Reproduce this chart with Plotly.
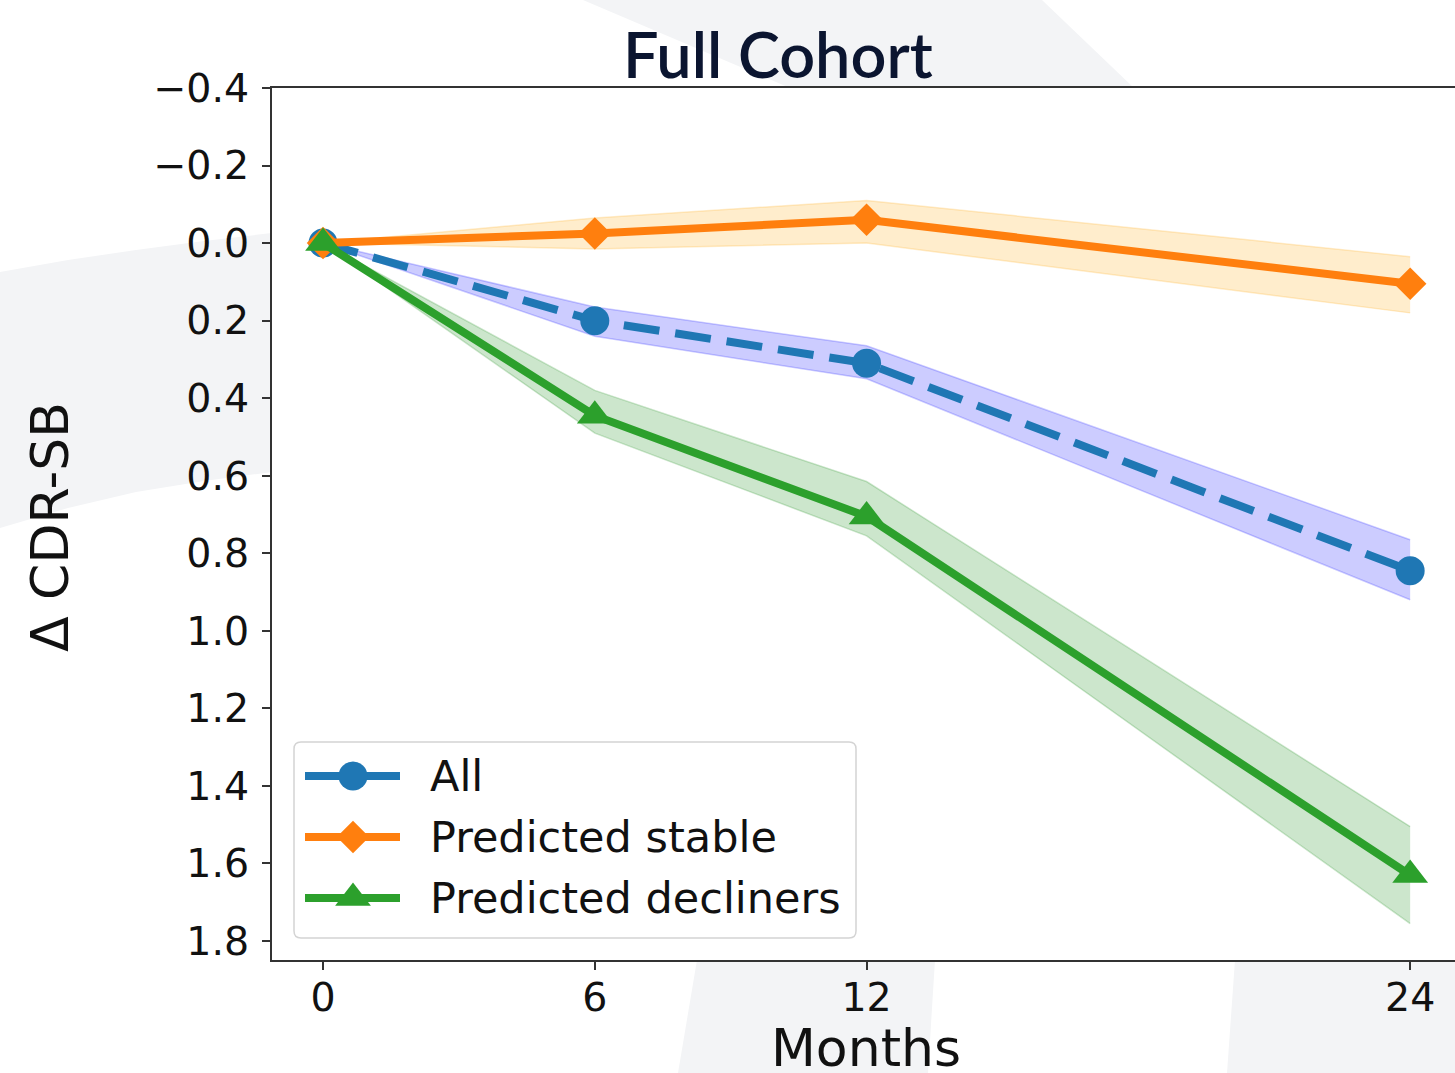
import plotly.graph_objects as go

# ---------------------------------------------------------------- data
months = [0, 6, 12, 24]

all_mean = [0.0, 0.20, 0.31, 0.845]
all_lo = [0.0, 0.165, 0.265, 0.765]
all_hi = [0.0, 0.24, 0.35, 0.92]

stable_mean = [0.0, -0.025, -0.06, 0.105]
stable_lo = [0.0, -0.065, -0.11, 0.035]
stable_hi = [0.0, 0.015, 0.0, 0.18]

decl_mean = [0.0, 0.445, 0.705, 1.63]
decl_lo = [0.0, 0.38, 0.615, 1.505]
decl_hi = [0.0, 0.49, 0.755, 1.755]

series_names = ["All", "Predicted stable", "Predicted decliners"]
x_ticks = [0, 6, 12, 24]
y_ticks = [-0.4, -0.2, 0.0, 0.2, 0.4, 0.6, 0.8, 1.0, 1.2, 1.4, 1.6, 1.8]
y_ticktext = ["\u22120.4", "\u22120.2", "0.0", "0.2", "0.4", "0.6", "0.8",
              "1.0", "1.2", "1.4", "1.6", "1.8"]

# ---------------------------------------------------------------- layout geometry
W, H = 1455, 1073
ML, MR, MT, MB = 272, 0, 88, 113
PW, PH = W - ML - MR, H - MT - MB


def px(x):
    return (x - ML) / PW


def py(y):
    return (H - MB - y) / PH


C_BLUE, C_ORANGE, C_GREEN = "#1f77b4", "#ff7f0e", "#2ca02c"
F_BLUE = "rgba(0,0,255,0.2)"
F_ORANGE = "rgba(255,165,0,0.2)"
F_GREEN = "rgba(0,128,0,0.2)"
TXT = "#111111"
FONT = "DejaVu Sans"
MS_CIRCLE, MS_DIAMOND, MS_TRI = 29, 25, 31
LW = 8

fig = go.Figure()


def band(lo, hi, fill):
    fig.add_trace(go.Scatter(x=months, y=lo, mode="lines",
                             line=dict(color=fill, width=1.5),
                             showlegend=False, hoverinfo="skip"))
    fig.add_trace(go.Scatter(x=months, y=hi, mode="lines", fill="tonexty",
                             fillcolor=fill, line=dict(color=fill, width=1.5),
                             showlegend=False, hoverinfo="skip"))


band(all_lo, all_hi, F_BLUE)
band(stable_lo, stable_hi, F_ORANGE)
band(decl_lo, decl_hi, F_GREEN)

fig.add_trace(go.Scatter(x=months, y=all_mean, mode="lines+markers", name=series_names[0],
                         line=dict(color=C_BLUE, width=LW, dash="36px,16px"),
                         marker=dict(symbol="circle", size=MS_CIRCLE, color=C_BLUE),
                         showlegend=False))
fig.add_trace(go.Scatter(x=months, y=stable_mean, mode="lines+markers", name=series_names[1],
                         line=dict(color=C_ORANGE, width=LW),
                         marker=dict(symbol="diamond", size=MS_DIAMOND, color=C_ORANGE),
                         showlegend=False))
fig.add_trace(go.Scatter(x=months, y=decl_mean, mode="lines+markers", name=series_names[2],
                         line=dict(color=C_GREEN, width=LW),
                         marker=dict(symbol="triangle-up", size=MS_TRI, color=C_GREEN),
                         showlegend=False))

shapes = []
annotations = []

# faint watermark ring behind the frame
WM = "#f3f4f6"


def poly(points):
    d = "M " + " L ".join(f"{px(a):.5f},{py(b):.5f}" for a, b in points) + " Z"
    return dict(type="path", path=d, xref="paper", yref="paper",
                fillcolor=WM, line=dict(width=0), layer="below")


shapes.append(poly([(0, 272), (68, 260), (136, 250), (204, 241), (272, 233),
                    (272, 472), (204, 481), (136, 492), (68, 508), (0, 528)]))
shapes.append(poly([(583, 0), (1042, 0), (1134, 88), (790, 88)]))
shapes.append(poly([(697, 960), (935, 960), (928, 1073), (678, 1073)]))
shapes.append(poly([(1235, 960), (1455, 960), (1455, 1073), (1227, 1073)]))

# legend box with rounded corners
lx0, lx1, ly0, ly1, rr = 294, 856, 742, 938, 7
rx, ry = rr / PW, rr / PH
X0, X1, Y0, Y1 = px(lx0), px(lx1), py(ly1), py(ly0)
box = (f"M {X0+rx},{Y0} L {X1-rx},{Y0} Q {X1},{Y0} {X1},{Y0+ry} "
       f"L {X1},{Y1-ry} Q {X1},{Y1} {X1-rx},{Y1} L {X0+rx},{Y1} "
       f"Q {X0},{Y1} {X0},{Y1-ry} L {X0},{Y0+ry} Q {X0},{Y0} {X0+rx},{Y0} Z")
shapes.append(dict(type="path", path=box, xref="paper", yref="paper",
                   fillcolor="rgba(255,255,255,0.8)",
                   line=dict(color="#d4d4d4", width=1.5), layer="above"))

key_x0, key_x1, key_cx, text_x = 305, 400, 353, 428
rows = [776, 837, 898]
colors = [C_BLUE, C_ORANGE, C_GREEN]
for i, (yc, col) in enumerate(zip(rows, colors)):
    shapes.append(dict(type="line", xref="paper", yref="paper",
                       x0=px(key_x0), x1=px(key_x1), y0=py(yc), y1=py(yc),
                       line=dict(color=col, width=LW), layer="above"))
    if i == 0:
        r = MS_CIRCLE / 2
        shapes.append(dict(type="circle", xref="paper", yref="paper",
                           x0=px(key_cx - r), x1=px(key_cx + r),
                           y0=py(yc + r), y1=py(yc - r),
                           fillcolor=col, line=dict(width=0), layer="above"))
    elif i == 1:
        h = MS_DIAMOND / 2 * 1.3
        pts = [(key_cx, yc - h), (key_cx + h, yc), (key_cx, yc + h), (key_cx - h, yc)]
        d = "M " + " L ".join(f"{px(a):.5f},{py(b):.5f}" for a, b in pts) + " Z"
        shapes.append(dict(type="path", path=d, xref="paper", yref="paper",
                           fillcolor=col, line=dict(width=0), layer="above"))
    else:
        r = MS_TRI / 2
        rt = r * 2 / 3 ** 0.5
        pts = [(key_cx - rt, yc + r / 2), (key_cx + rt, yc + r / 2), (key_cx, yc - r)]
        d = "M " + " L ".join(f"{px(a):.5f},{py(b):.5f}" for a, b in pts) + " Z"
        shapes.append(dict(type="path", path=d, xref="paper", yref="paper",
                           fillcolor=col, line=dict(width=0), layer="above"))
    annotations.append(dict(text=series_names[i], xref="paper", yref="paper",
                            x=px(text_x), y=py(yc), xanchor="left", yanchor="middle",
                            showarrow=False, font=dict(family=FONT, size=43, color=TXT)))

# title and axis titles
annotations.append(dict(text="Full Cohort", xref="paper", yref="paper",
                        x=px(778), y=py(53), xanchor="center", yanchor="middle",
                        showarrow=False,
                        font=dict(family="Lato", size=63, color="#0b1530", weight=600)))
annotations.append(dict(text="Months", xref="paper", yref="paper",
                        x=px(866), y=py(1048), xanchor="center", yanchor="middle",
                        showarrow=False, font=dict(family=FONT, size=52, color=TXT)))
annotations.append(dict(text="\u0394 CDR-SB", xref="paper", yref="paper",
                        x=px(50), y=py(527), xanchor="center", yanchor="middle",
                        textangle=-90, showarrow=False,
                        font=dict(family=FONT, size=52, color=TXT)))

AX = "#333333"
fig.update_layout(
    width=W, height=H,
    margin=dict(l=ML, r=MR, t=MT, b=MB, pad=0),
    paper_bgcolor="white", plot_bgcolor="rgba(0,0,0,0)",
    showlegend=False,
    shapes=shapes, annotations=annotations,
    xaxis=dict(range=[-1.126, 24.99], tickmode="array", tickvals=x_ticks,
               ticktext=[str(t) for t in x_ticks],
               showgrid=False, zeroline=False, showline=True, mirror=True,
               linecolor=AX, linewidth=2, ticks="outside", ticklen=8, tickwidth=2,
               tickcolor=AX, ticklabelstandoff=-6,
               tickfont=dict(family=FONT, size=39.5, color=TXT)),
    yaxis=dict(range=[1.849, -0.4], tickmode="array", tickvals=y_ticks,
               ticktext=y_ticktext,
               showgrid=False, zeroline=False, showline=True, mirror=False,
               linecolor=AX, linewidth=2, ticks="outside", ticklen=8, tickwidth=2,
               tickcolor=AX, ticklabelstandoff=5,
               tickfont=dict(family=FONT, size=39.5, color=TXT)),
)

fig.write_html("out.html")
